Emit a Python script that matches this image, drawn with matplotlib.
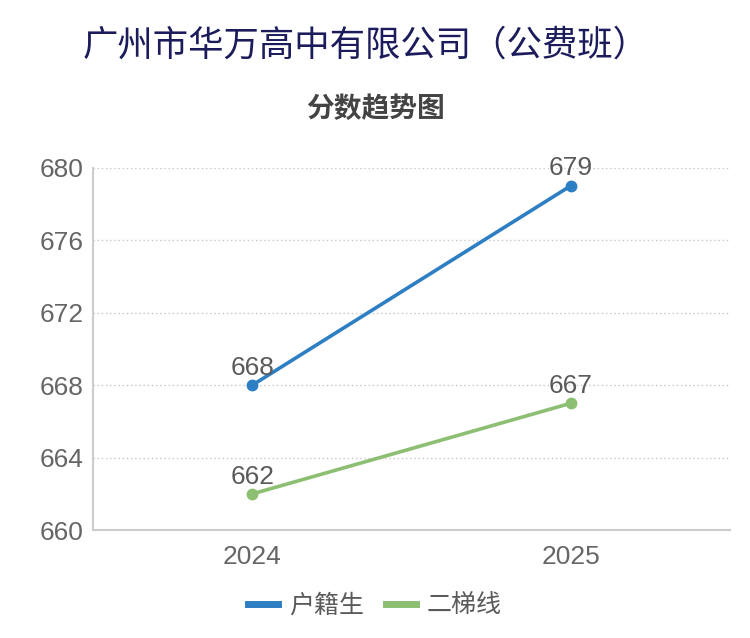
import matplotlib
matplotlib.use("Agg")
import matplotlib.pyplot as plt
import numpy as np

plt.rcParams['font.family'] = ['Noto Sans CJK SC', 'DejaVu Sans']
num_font = ['Liberation Sans', 'DejaVu Sans']

# --------------DATA--------------
years = ['2024', '2025']
huji = [668, 679]      # 户籍生
erti = [662, 667]      # 二梯线
yticks = [660, 664, 668, 672, 676, 680]

blue = '#2e7ec4'
green = '#8cbf72'
gray = '#5a5a5a'

fig = plt.figure(figsize=(7.5, 6.38), dpi=100)
ax = fig.add_axes([0.124, 0.169, 0.849, 0.568])

x = np.arange(len(years))
ax.plot(x, huji, color=blue, lw=2.6, marker='o', ms=7.5, label='户籍生', zorder=3)
ax.plot(x, erti, color=green, lw=2.6, marker='o', ms=7.5, label='二梯线', zorder=3)

for xi, v in zip(x, huji):
    ax.text(xi, v + 0.3, str(v), ha='center', va='bottom', fontsize=19,
            color=gray, family=num_font)
for xi, v in zip(x, erti):
    ax.text(xi, v + 0.3, str(v), ha='center', va='bottom', fontsize=19,
            color=gray, family=num_font)

ax.set_xlim(-0.5, 1.5)
ax.set_ylim(660, 680)
ax.set_yticks(yticks)
ax.set_xticks(x)
ax.set_xticklabels(years)
ax.tick_params(axis='both', length=0, labelsize=19, labelcolor='#666666')
ax.tick_params(axis='x', pad=11)
ax.tick_params(axis='y', pad=7)
for lab in ax.get_xticklabels() + ax.get_yticklabels():
    lab.set_family(num_font)

ax.grid(axis='y', linestyle=(0, (1, 2)), color='#c8c8c8', lw=1)
for s in ['top', 'right']:
    ax.spines[s].set_visible(False)
for s in ['left', 'bottom']:
    ax.spines[s].set_color('#cccccc')
    ax.spines[s].set_linewidth(1.5)

leg = fig.legend(loc='center', bbox_to_anchor=(0.5, 0.05), ncol=2, frameon=False,
                 fontsize=18, handlelength=1.2, handletextpad=0.45, columnspacing=0.85)
for h in leg.get_lines():
    h.set_marker('')
    h.set_linewidth(5)
for t in leg.get_texts():
    t.set_color(gray)

fig.text(0.487, 0.928, '广州市华万高中有限公司（公费班）', ha='center', va='center',
         fontsize=25.5, color='#1c1c5c')
fig.text(0.5, 0.83, '分数趋势图', ha='center', va='center',
         fontsize=20, fontweight='bold', color='#444444')

fig.savefig('out.png', dpi=100, facecolor='white')
